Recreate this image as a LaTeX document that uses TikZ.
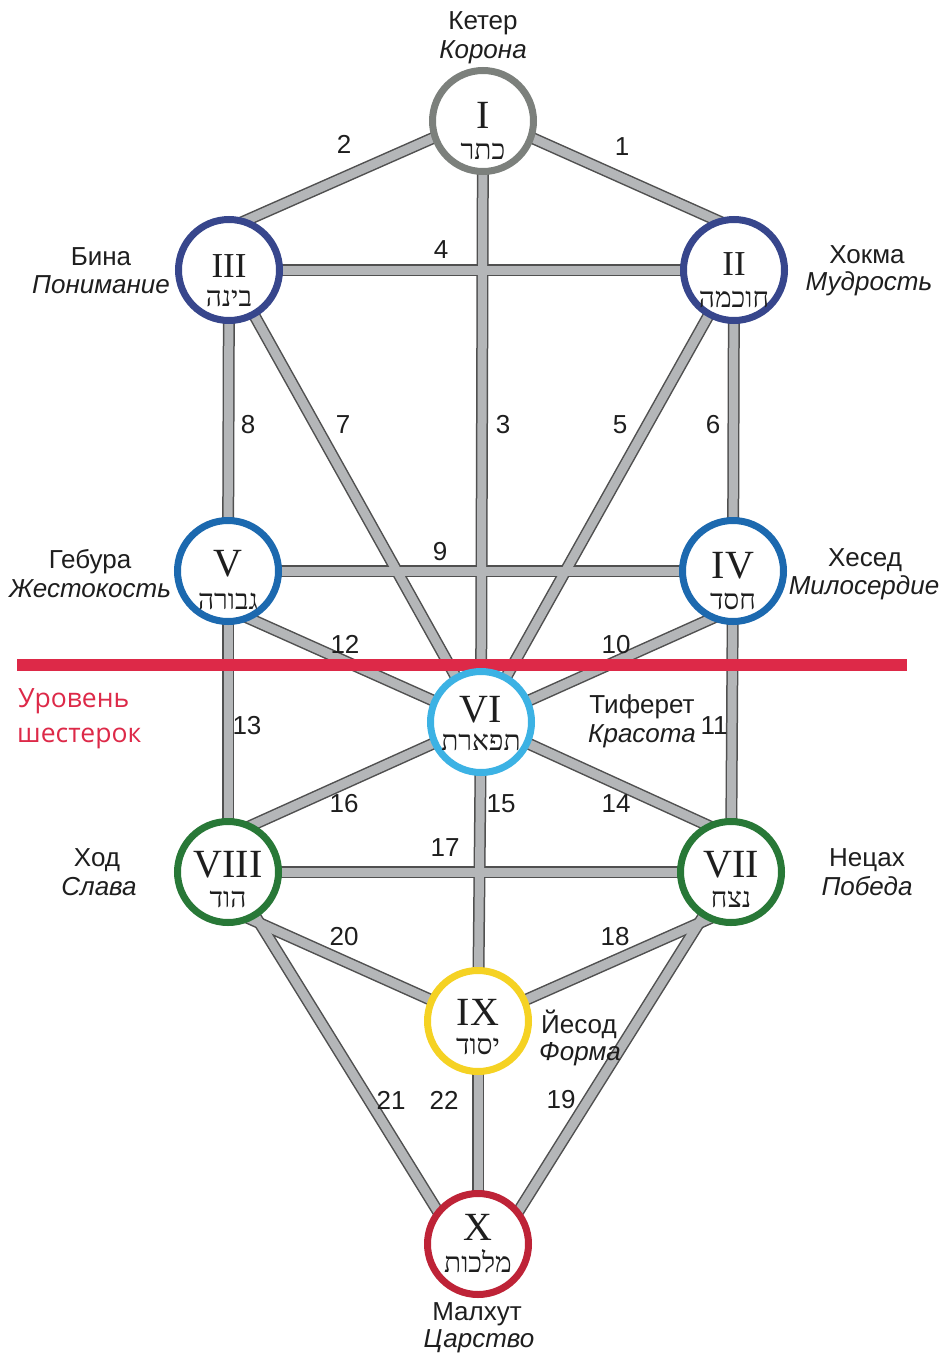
\documentclass[tikz,border=0pt]{standalone}
\usepackage{fontspec}
\setmainfont{Liberation Sans}
\newfontfamily\romfont{Liberation Serif}
\newfontfamily\hebfont[Script=Hebrew]{Liberation Serif}
\newfontfamily\redfont{Open Sans}
\TeXXeTstate=1
\definecolor{cI}{RGB}{124,128,124}
\definecolor{cII}{RGB}{55,70,140}
\definecolor{cIV}{RGB}{28,105,175}
\definecolor{cVI}{RGB}{60,178,228}
\definecolor{cVII}{RGB}{40,120,55}
\definecolor{cIX}{RGB}{245,210,35}
\definecolor{cX}{RGB}{190,35,55}
\definecolor{pathdark}{RGB}{80,80,80}
\definecolor{pathfill}{RGB}{180,182,184}
\definecolor{redlvl}{RGB}{221,41,72}
\definecolor{txt}{RGB}{30,30,30}
\begin{document}
\begin{tikzpicture}[x=1pt,y=-1pt,
  pathout/.style={draw=pathdark,line width=12pt},
  pathin/.style={draw=pathfill,line width=9pt},
  seph/.style={circle,fill=white,line width=7pt,minimum size=101pt,inner sep=0pt},
  roman/.style={font=\romfont\fontsize{40}{40}\selectfont,text=txt,inner sep=0pt},
  romansm/.style={font=\romfont\fontsize{35}{35}\selectfont,text=txt,inner sep=0pt},
  heb/.style={font=\hebfont\fontsize{28}{28}\selectfont,text=txt,inner sep=0pt,anchor=base},
  lab/.style={font=\fontsize{26}{30}\selectfont,text=txt,inner sep=0pt,anchor=base},
  labi/.style={font=\itshape\fontsize{26}{30}\selectfont,text=txt,inner sep=0pt,anchor=base},
  num/.style={font=\fontsize{26}{26}\selectfont,text=txt,inner sep=0pt},
  redlab/.style={font=\redfont\fontsize{26.5}{30}\selectfont,text=redlvl,inner sep=0pt,anchor=base west},
  redline/.style={draw=redlvl,line width=12pt}
]
\useasboundingbox (0,0) rectangle (944,1357);
\fill[white] (0,0) rectangle (944,1357);
% centres
\coordinate (p1) at (483,121);
\coordinate (p2) at (734,270);
\coordinate (p3) at (229,270);
\coordinate (p4) at (733,571);
\coordinate (p5) at (228,571);
\coordinate (p6) at (481,722);
\coordinate (p7) at (731,872);
\coordinate (p8) at (228,872);
\coordinate (p9) at (478,1021);
\coordinate (p10) at (478,1244);
% off-centre path ends (hidden under the circles)
\coordinate (p1t) at (483,116);
\coordinate (p2t) at (734,228);
\coordinate (p3t) at (229,228);
\coordinate (p4b) at (733,609);
\coordinate (p5b) at (228,609);
\coordinate (p7t) at (731,836);
\coordinate (p8t) at (228,836);
\coordinate (p7b) at (731,909);
\coordinate (p8b) at (228,909);
\coordinate (p10l) at (458,1244);
\coordinate (p10r) at (498,1244);
% paths
\def\pathlist{p1t/p2t,p1t/p3t,p1/p6,p2/p3,p2/p6,p2/p4,p3/p6,p3/p5,p4/p5,p4b/p6,p4/p7,p5b/p6,p5/p8,p6/p7t,p6/p9,p6/p8t,p7/p8,p7b/p9,p7/p10r,p8b/p9,p8/p10l,p9/p10}
\foreach \a/\b in \pathlist \draw[pathout] (\a) -- (\b);
\foreach \a/\b in \pathlist \draw[pathin] (\a) -- (\b);
% level line
\coordinate (rl1) at (17,665);
\coordinate (rl2) at (907,665);
\draw[redline] (rl1) -- (rl2);
% sephirot
\node[seph,draw=cI] (s1) at (p1) {};
\node[seph,draw=cII] (s2) at (p2) {};
\node[seph,draw=cII] (s3) at (p3) {};
\node[seph,draw=cIV] (s4) at (p4) {};
\node[seph,draw=cIV] (s5) at (p5) {};
\node[seph,draw=cVI] (s6) at (p6) {};
\node[seph,draw=cVII] (s7) at (p7) {};
\node[seph,draw=cVII] (s8) at (p8) {};
\node[seph,draw=cIX] (s9) at (p9) {};
\node[seph,draw=cX] (s10) at (p10) {};
% numerals
\node[roman] (r1) at (483,115) {I};
\node[romansm] (r2) at (734,264) {II};
\node[romansm] (r3) at (229,266) {III};
\node[roman] (r4) at (733,566) {IV};
\node[roman] (r5) at (228,564) {V};
\node[roman] (r6) at (481,710) {VI};
\node[roman] (r7) at (731,865) {VII};
\node[roman] (r8) at (228,865) {VIII};
\node[roman] (r9) at (478,1012) {IX};
\node[roman] (r10) at (478,1227) {X};
% hebrew
\node[heb] (h1) at (483,159) {\beginR כתר\endR};
\node[heb] (h2) at (734,307) {\beginR חוכמה\endR};
\node[heb] (h3) at (229,306) {\beginR בינה\endR};
\node[heb] (h4) at (733,609) {\beginR חסד\endR};
\node[heb] (h5) at (228,609) {\beginR גבורה\endR};
\node[heb] (h6) at (481,750) {\beginR תפארת\endR};
\node[heb] (h7) at (731,907) {\beginR נצח\endR};
\node[heb] (h8) at (228,907) {\beginR הוד\endR};
\node[heb] (h9) at (478,1054) {\beginR יסוד\endR};
\node[heb] (h10) at (478,1272) {\beginR מלכות\endR};
% names
\node[lab] (n1a) at (483,29) {Кетер};
\node[labi] (n1b) at (483,58) {Корона};
\node[lab] (n3a) at (101,265) {Бина};
\node[labi] (n3b) at (101,293) {Понимание};
\node[lab] (n2a) at (867,263) {Хокма};
\node[labi] (n2b) at (869,290) {Мудрость};
\node[lab] (n5a) at (90,568) {Гебура};
\node[labi] (n5b) at (90,597) {Жестокость};
\node[lab] (n4a) at (865,566) {Хесед};
\node[labi] (n4b) at (864,594) {Милосердие};
\node[lab] (n6a) at (642,713) {Тиферет};
\node[labi] (n6b) at (642,742) {Красота};
\node[lab] (n8a) at (97,866) {Ход};
\node[labi] (n8b) at (99,895) {Слава};
\node[lab] (n7a) at (867,866) {Нецах};
\node[labi] (n7b) at (867,895) {Победа};
\node[lab,anchor=base west] (n9a) at (541,1033) {Йесод};
\node[labi,anchor=base west] (n9b) at (539,1060) {Форма};
\node[lab] (n10a) at (477,1320) {Малхут};
\node[labi] (n10b) at (479,1347) {Царство};
\node[redlab] (lv1) at (18,707) {Уровень};
\node[redlab] (lv2) at (17,742) {шестерок};
% path numbers
\node[num] (k1) at (622,147) {1};
\node[num] (k2) at (344,144) {2};
\node[num] (k3) at (503,425) {3};
\node[num] (k4) at (441,250) {4};
\node[num] (k5) at (620,425) {5};
\node[num] (k6) at (713,425) {6};
\node[num] (k7) at (343,425) {7};
\node[num] (k8) at (248,425) {8};
\node[num] (k9) at (440,552) {9};
\node[num] (k10) at (616,645) {10};
\node[num] (k11) at (714,726) {11};
\node[num] (k12) at (345,644) {12};
\node[num] (k13) at (247,726) {13};
\node[num] (k14) at (616,804) {14};
\node[num] (k15) at (501,804) {15};
\node[num] (k16) at (344,804) {16};
\node[num] (k17) at (445,848) {17};
\node[num] (k18) at (615,937) {18};
\node[num] (k19) at (561,1100) {19};
\node[num] (k20) at (344,937) {20};
\node[num] (k21) at (391,1100) {21};
\node[num] (k22) at (444,1100) {22};
\end{tikzpicture}
\end{document}
